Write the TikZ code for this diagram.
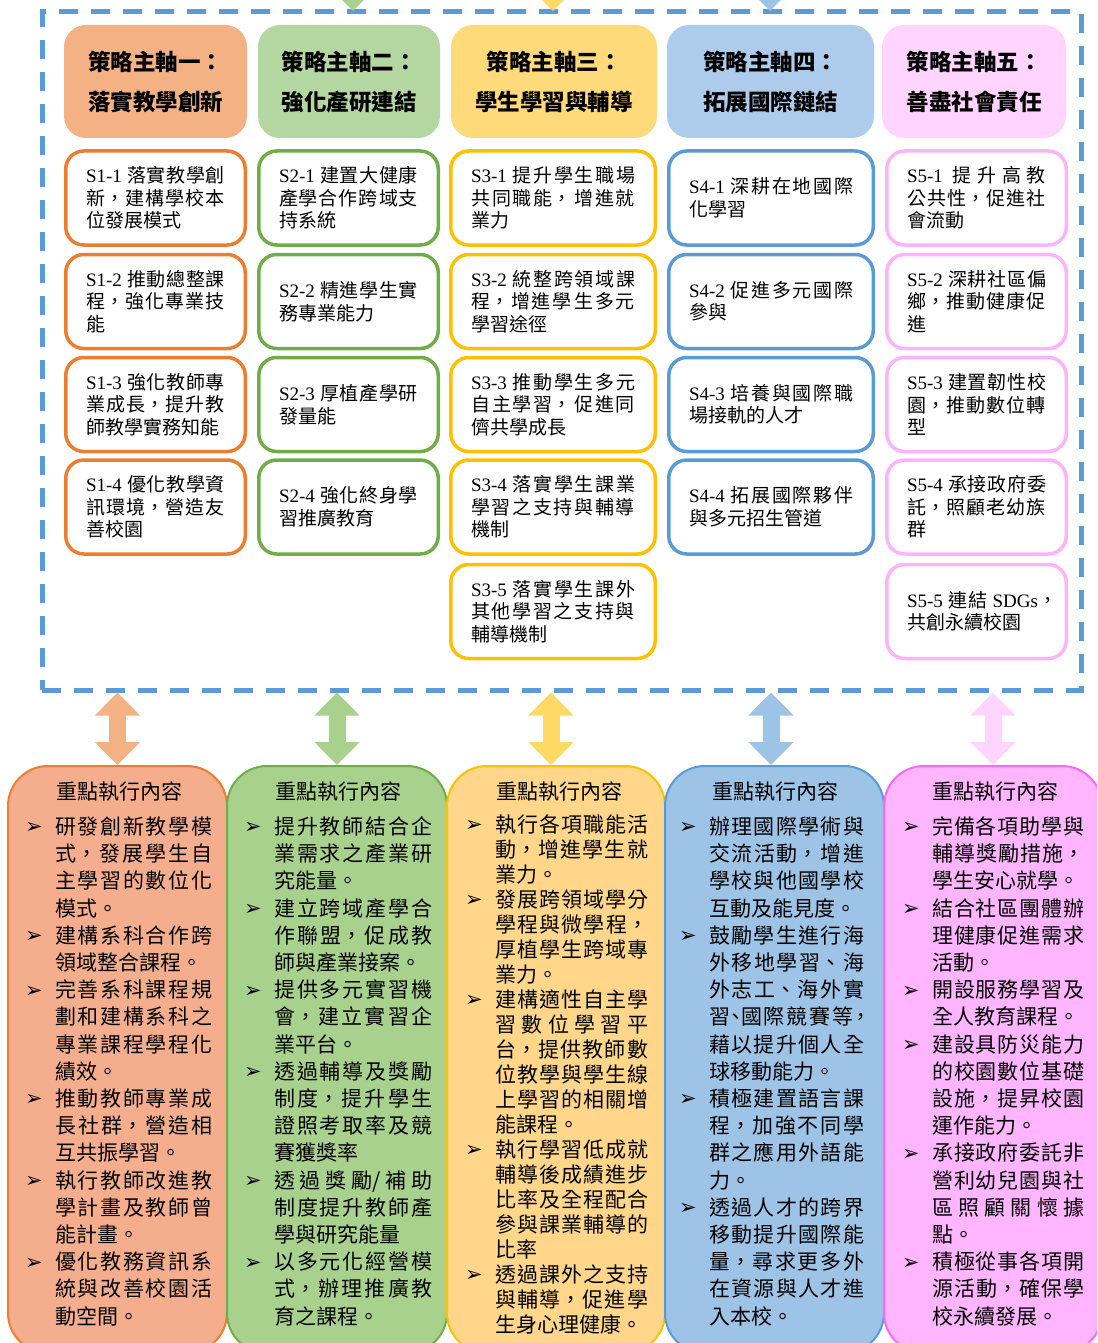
\documentclass[tikz,border=0pt]{standalone}
\usepackage{fontspec}
\setmainfont{Noto Sans CJK TC}
\newfontfamily\lat{Liberation Serif}
\newfontfamily\dejavu{DejaVu Sans}
\usetikzlibrary{arrows.meta,positioning}

\XeTeXlinebreaklocale "zh"
\XeTeXlinebreakskip=0pt plus 3pt minus 0.5pt
\tolerance=10000
\hbadness=10000

\definecolor{dashblue}{HTML}{5B9BD5}
\definecolor{orgline}{HTML}{ED7D31}
\definecolor{grnline}{HTML}{70AD47}
\definecolor{ylwline}{HTML}{FFC000}
\definecolor{bluline}{HTML}{5B9BD5}
\definecolor{pnkline}{HTML}{FFB3FF}
\definecolor{pnkedge}{HTML}{FF66FF}
\definecolor{orghead}{HTML}{F4B183}
\definecolor{grnhead}{HTML}{B4D6A0}
\definecolor{ylwhead}{HTML}{FFDA7A}
\definecolor{bluhead}{HTML}{ADCBEA}
\definecolor{pnkhead}{HTML}{FFD5FF}
\definecolor{orgpanel}{HTML}{F5AE8D}
\definecolor{grnpanel}{HTML}{A9D18E}
\definecolor{ylwpanel}{HTML}{FFD68A}
\definecolor{blupanel}{HTML}{9DC3E6}
\definecolor{pnkpanel}{HTML}{FFB5FF}
\definecolor{orgarr}{HTML}{F4B183}
\definecolor{grnarr}{HTML}{A9D18E}
\definecolor{ylwarr}{HTML}{FFD966}
\definecolor{bluarr}{HTML}{9DC3E6}
\definecolor{pnkarr}{HTML}{FFD5FF}

\newcommand{\bul}{{\dejavu\fontsize{21}{21}\selectfont ➢}}
\newcommand{\itm}{\par\noindent\hangindent=30pt\hangafter=1\makebox[30pt][l]{\raisebox{0.5pt}{\bul}}}

\begin{document}
\begin{tikzpicture}[x=1pt,y=-1pt,
  dashframe/.style={draw=dashblue,line width=5pt,dash pattern=on 19pt off 13pt,minimum width=1039pt,minimum height=678pt,inner sep=0pt},
  header/.style={rounded corners=22pt,minimum height=113pt,inner sep=0pt,align=center,font=\fontsize{22.5}{40}\selectfont\bfseries},
  sbox/.style={draw,line width=3.5pt,fill=white,rounded corners=18pt,minimum height=94pt,inner xsep=20.25pt,inner ysep=0pt,align=justify,font=\fontsize{19}{22.5}\selectfont},
  sboxn/.style={text width=139pt,minimum width=179.5pt},
  sboxw/.style={text width=164pt,minimum width=204.5pt},
  panel/.style={draw,line width=2pt,rounded corners=40pt,minimum height=587pt},
  ptitle/.style={inner sep=0pt,font=\fontsize{21}{21}\selectfont},
  ptext/.style={anchor=north west,inner sep=0pt,align=justify,font=\fontsize{21}{27.2}\selectfont},
  dblarr/.style={line width=17pt,{Triangle[length=23pt,width=44pt]}-{Triangle[length=23pt,width=44pt]}},
  toparr/.style={line width=17pt,-{Triangle[length=23pt,width=44pt]}}]
\useasboundingbox (0,0) rectangle (1097,1343);
\begin{scope}
\clip (0,0) rectangle (1097,1343);

% dashed frame round the five strategy axes
\node[dashframe] (frm) at (561.5,351) {};

% strategy headers
\node[header,fill=orghead,minimum width=183pt] (h1) at (155.5,81.5) {策略主軸一：\\落實教學創新};
\node[header,fill=grnhead,minimum width=182pt] (h2) at (349,81.5) {策略主軸二：\\強化產研連結};
\node[header,fill=ylwhead,minimum width=206pt] (h3) at (554,81.5) {策略主軸三：\\學生學習與輔導};
\node[header,fill=bluhead,minimum width=207pt] (h4) at (770.5,81.5) {策略主軸四：\\拓展國際鏈結};
\node[header,fill=pnkhead,minimum width=184pt] (h5) at (974,81.5) {策略主軸五：\\善盡社會責任};

% axis 1
\node[sbox,sboxn,draw=orgline] (s11) at (155.5,198) {{\lat S1-1 }落實教學創\linebreak 新，建構學校本\linebreak 位發展模式};
\node[sbox,sboxn,draw=orgline] (s12) at (155.5,301.5) {{\lat S1-2 }推動總整課\linebreak 程，強化專業技\linebreak 能};
\node[sbox,sboxn,draw=orgline] (s13) at (155.5,404.5) {{\lat S1-3 }強化教師專\linebreak 業成長，提升教\linebreak 師教學實務知能};
\node[sbox,sboxn,draw=orgline] (s14) at (155.5,507) {{\lat S1-4 }優化教學資\linebreak 訊環境，營造友\linebreak 善校園};

% axis 2
\node[sbox,sboxn,draw=grnline] (s21) at (348.5,198) {{\lat S2-1 }建置大健康\linebreak 產學合作跨域支\linebreak 持系統};
\node[sbox,sboxn,draw=grnline] (s22) at (348.5,301.5) {{\lat S2-2 }精進學生實\linebreak 務專業能力};
\node[sbox,sboxn,draw=grnline] (s23) at (348.5,404.5) {{\lat S2-3 }厚植產學研\linebreak 發量能};
\node[sbox,sboxn,draw=grnline] (s24) at (348.5,507) {{\lat S2-4 }強化終身學\linebreak 習推廣教育};

% axis 3
\node[sbox,sboxw,draw=ylwline] (s31) at (553,198) {{\lat S3-1 }提升學生職場\linebreak 共同職能，增進就\linebreak 業力};
\node[sbox,sboxw,draw=ylwline] (s32) at (553,301.5) {{\lat S3-2 }統整跨領域課\linebreak 程，增進學生多元\linebreak 學習途徑};
\node[sbox,sboxw,draw=ylwline] (s33) at (553,404.5) {{\lat S3-3 }推動學生多元\linebreak 自主學習，促進同\linebreak 儕共學成長};
\node[sbox,sboxw,draw=ylwline] (s34) at (553,507) {{\lat S3-4 }落實學生課業\linebreak 學習之支持與輔導\linebreak 機制};
\node[sbox,sboxw,draw=ylwline] (s35) at (553,611.5) {{\lat S3-5 }落實學生課外\linebreak 其他學習之支持與\linebreak 輔導機制};

% axis 4
\node[sbox,sboxw,draw=bluline] (s41) at (771,198) {{\lat S4-1 }深耕在地國際\linebreak 化學習};
\node[sbox,sboxw,draw=bluline] (s42) at (771,301.5) {{\lat S4-2 }促進多元國際\linebreak 參與};
\node[sbox,sboxw,draw=bluline] (s43) at (771,404.5) {{\lat S4-3 }培養與國際職\linebreak 場接軌的人才};
\node[sbox,sboxw,draw=bluline] (s44) at (771,507) {{\lat S4-4 }拓展國際夥伴\linebreak 與多元招生管道};

% axis 5
\node[sbox,sboxn,draw=pnkline] (s51) at (976.5,198) {{\lat S5-1 }提升高教\linebreak 公共性，促進社\linebreak 會流動};
\node[sbox,sboxn,draw=pnkline] (s52) at (976.5,301.5) {{\lat S5-2 }深耕社區偏\linebreak 鄉，推動健康促\linebreak 進};
\node[sbox,sboxn,draw=pnkline] (s53) at (976.5,404.5) {{\lat S5-3 }建置韌性校\linebreak 園，推動數位轉\linebreak 型};
\node[sbox,sboxn,draw=pnkline] (s54) at (976.5,507) {{\lat S5-4 }承接政府委\linebreak 託，照顧老幼族\linebreak 群};
\node[sbox,sboxn,draw=pnkline] (s55) at (976.5,611.5) {{\lat S5-5 }連結 {\lat SDGs}\makebox[8pt][l]{，}\linebreak 共創永續校園};

% execution panels
\node[panel,draw=orgline,fill=orgpanel,minimum width=219pt] (p1) at (117.5,1059.5) {};
\node[panel,draw=grnline,fill=grnpanel,minimum width=220pt] (p2) at (337,1059.5) {};
\node[panel,draw=ylwline,fill=ylwpanel,minimum width=218pt] (p3) at (556,1059.5) {};
\node[panel,draw=bluline,fill=blupanel,minimum width=219pt] (p4) at (774.5,1059.5) {};
\node[panel,draw=pnkedge,fill=pnkpanel,minimum width=218pt] (p5) at (993,1059.5) {};

\node[ptitle] (t1) at (119,792) {重點執行內容};
\node[ptitle] (t2) at (338,792) {重點執行內容};
\node[ptitle] (t3) at (559,792) {重點執行內容};
\node[ptitle] (t4) at (775,792) {重點執行內容};
\node[ptitle] (t5) at (995,792) {重點執行內容};

\node[ptext,text width=187pt] (b1) at (25,807) {%
\itm 研發創新教學模\linebreak 式，發展學生自\linebreak 主學習的數位化\linebreak 模式。
\itm 建構系科合作跨\linebreak 領域整合課程。
\itm 完善系科課程規\linebreak 劃和建構系科之\linebreak 專業課程學程化\linebreak 績效。
\itm 推動教師專業成\linebreak 長社群，營造相\linebreak 互共振學習。
\itm 執行教師改進教\linebreak 學計畫及教師曾\linebreak 能計畫。
\itm 優化教務資訊系\linebreak 統與改善校園活\linebreak 動空間。\par};

\node[ptext,text width=188pt] (b2) at (244,807) {%
\itm 提升教師結合企\linebreak 業需求之產業研\linebreak 究能量。
\itm 建立跨域產學合\linebreak 作聯盟，促成教\linebreak 師與產業接案。
\itm 提供多元實習機\linebreak 會，建立實習企\linebreak 業平台。
\itm 透過輔導及獎勵\linebreak 制度，提升學生\linebreak 證照考取率及競\linebreak 賽獲獎率
\itm 透過獎勵/補助\linebreak 制度提升教師產\linebreak 學與研究能量
\itm 以多元化經營模\linebreak 式，辦理推廣教\linebreak 育之課程。\par};

\node[ptext,text width=183pt,font=\fontsize{21}{25}\selectfont] (b3) at (465,807) {%
\itm 執行各項職能活\linebreak 動，增進學生就\linebreak 業力。
\itm 發展跨領域學分\linebreak 學程與微學程，\linebreak 厚植學生跨域專\linebreak 業力。
\itm 建構適性自主學\linebreak 習數位學習平\linebreak 台，提供教師數\linebreak 位教學與學生線\linebreak 上學習的相關增\linebreak 能課程。
\itm 執行學習低成就\linebreak 輔導後成績進步\linebreak 比率及全程配合\linebreak 參與課業輔導的\linebreak 比率
\itm 透過課外之支持\linebreak 與輔導，促進學\linebreak 生身心理健康。\par};

\node[ptext,text width=185pt] (b4) at (679,807) {%
\itm 辦理國際學術與\linebreak 交流活動，增進\linebreak 學校與他國學校\linebreak 互動及能見度。
\itm 鼓勵學生進行海\linebreak 外移地學習、海\linebreak 外志工、海外實\linebreak 習\kern-5pt、\kern-5pt國際競賽等\kern-3pt，\kern-7pt\linebreak 藉以提升個人全\linebreak 球移動能力。
\itm 積極建置語言課\linebreak 程，加強不同學\linebreak 群之應用外語能\linebreak 力。
\itm 透過人才的跨界\linebreak 移動提升國際能\linebreak 量，尋求更多外\linebreak 在資源與人才進\linebreak 入本校。\par};

\node[ptext,text width=182pt] (b5) at (902,807) {%
\itm 完備各項助學與\linebreak 輔導獎勵措施，\linebreak 學生安心就學。
\itm 結合社區團體辦\linebreak 理健康促進需求\linebreak 活動。
\itm 開設服務學習及\linebreak 全人教育課程。
\itm 建設具防災能力\linebreak 的校園數位基礎\linebreak 設施，提昇校園\linebreak 運作能力。
\itm 承接政府委託非\linebreak 營利幼兒園與社\linebreak 區照顧關懷據\linebreak 點。
\itm 積極從事各項開\linebreak 源活動，確保學\linebreak 校永續發展。\par};

% two-way arrows between frame and panels
\draw[dblarr,draw=orgarr] (p1.north |- frm.south) -- (p1.north);
\draw[dblarr,draw=grnarr] (p2.north |- frm.south) -- (p2.north);
\draw[dblarr,draw=ylwarr] ([xshift=-5pt]p3.north |- frm.south) -- ([xshift=-5pt]p3.north);
\draw[dblarr,draw=bluarr] ([xshift=-3.5pt]p4.north |- frm.south) -- ([xshift=-3.5pt]p4.north);
\draw[dblarr,draw=pnkarr] (p5.north |- frm.south) -- (p5.north);

% arrows coming in from above
\draw[toparr,draw=grnarr] (353,-60) -- (353,11);
\draw[toparr,draw=ylwarr] (553,-60) -- (553,11);
\draw[toparr,draw=bluarr] (770,-60) -- (770,11);
\end{scope}
\end{tikzpicture}
\end{document}
